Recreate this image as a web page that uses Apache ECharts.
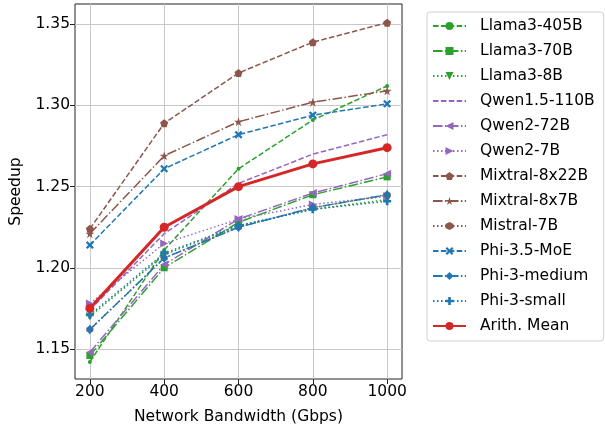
<!DOCTYPE html>
<html><head><meta charset="utf-8">
<script src="https://cdn.jsdelivr.net/npm/echarts@6/dist/echarts.min.js"></script>
<style>html,body{margin:0;padding:0;background:#fff}#c{width:605px;height:430px}</style>
</head><body><div id="c"></div>
<script>
const bandwidth = [200, 400, 600, 800, 1000];
const xTicks = [200, 400, 600, 800, 1000];
const yTicks = [1.15, 1.20, 1.25, 1.30, 1.35];

const llama3_405b = [1.142, 1.211, 1.261, 1.291, 1.312];
const llama3_70b  = [1.146, 1.200, 1.228, 1.245, 1.256];
const llama3_8b   = [1.170, 1.208, 1.226, 1.236, 1.242];
const qwen15_110b = [1.174, 1.221, 1.252, 1.270, 1.282];
const qwen2_72b   = [1.148, 1.202, 1.230, 1.246, 1.258];
const qwen2_7b    = [1.178, 1.215, 1.230, 1.239, 1.244];
const mixtral_8x22b = [1.224, 1.289, 1.320, 1.339, 1.351];
const mixtral_8x7b  = [1.221, 1.269, 1.290, 1.302, 1.309];
const mistral_7b    = [1.162, 1.206, 1.225, 1.237, 1.245];
const phi35_moe     = [1.214, 1.261, 1.282, 1.294, 1.301];
const phi3_medium   = [1.162, 1.206, 1.225, 1.237, 1.245];
const phi3_small    = [1.171, 1.209, 1.226, 1.236, 1.241];
const arith_mean    = [1.175, 1.225, 1.250, 1.264, 1.274];

const GREEN = '#2ca02c', PURPLE = '#9467bd', BROWN = '#8c564b', BLUE = '#1f77b4', RED = '#d62728';
const DASH = [5.5, 2.4], DASHDOT = [9.6, 2.4, 1.5, 2.4], DOT = [1.5, 2.5];
const STAR = 'path://M0,-1 L0.2245,-0.309 L0.951,-0.309 L0.363,0.118 L0.588,0.809 L0,0.382 L-0.588,0.809 L-0.363,0.118 L-0.951,-0.309 L-0.2245,-0.309 Z';
const HEX = 'path://M0,-1 L0.866,-0.5 L0.866,0.5 L0,1 L-0.866,0.5 L-0.866,-0.5 Z';
const PENT = 'path://M0,-1 L0.951,-0.309 L0.588,0.809 L-0.588,0.809 L-0.951,-0.309 Z';
const XF = 'path://M-1,-0.6 L-0.6,-1 L0,-0.4 L0.6,-1 L1,-0.6 L0.4,0 L1,0.6 L0.6,1 L0,0.4 L-0.6,1 L-1,0.6 L-0.4,0 Z';
const PF = 'path://M-0.33,-1 L0.33,-1 L0.33,-0.33 L1,-0.33 L1,0.33 L0.33,0.33 L0.33,1 L-0.33,1 L-0.33,0.33 L-1,0.33 L-1,-0.33 L-0.33,-0.33 Z';

const defs = [
  ['Llama3-405B', llama3_405b, GREEN, DASH, 'circle', 4, 0],
  ['Llama3-70B', llama3_70b, GREEN, DASHDOT, 'rect', 7, 0],
  ['Llama3-8B', llama3_8b, GREEN, DOT, 'triangle', 8, 180],
  ['Qwen1.5-110B', qwen15_110b, PURPLE, DASH, 'none', 0, 0],
  ['Qwen2-72B', qwen2_72b, PURPLE, DASHDOT, 'triangle', 8, 90],
  ['Qwen2-7B', qwen2_7b, PURPLE, DOT, 'triangle', 8, -90],
  ['Mixtral-8x22B', mixtral_8x22b, BROWN, DASH, PENT, 8, 0],
  ['Mixtral-8x7B', mixtral_8x7b, BROWN, DASHDOT, STAR, 9, 0],
  ['Mistral-7B', mistral_7b, BROWN, DOT, HEX, 7, 0],
  ['Phi-3.5-MoE', phi35_moe, BLUE, DASH, XF, 8, 0],
  ['Phi-3-medium', phi3_medium, BLUE, DASHDOT, 'diamond', [7, 10], 0],
  ['Phi-3-small', phi3_small, BLUE, DOT, PF, 8, 0],
  ['Arith. Mean', arith_mean, RED, 'solid', 'circle', 9, 0]
];

const series = defs.map(d => ({
  name: d[0], type: 'line',
  data: bandwidth.map((x, i) => [x, d[1][i]]),
  symbol: d[4] === 'none' ? 'circle' : d[4], symbolSize: d[5], symbolRotate: d[6], showSymbol: d[4] !== 'none',
  lineStyle: { color: d[2], width: d[0] === 'Arith. Mean' ? 3 : 1.5, type: d[3] },
  itemStyle: { color: d[2] },
  emphasis: { disabled: true }, animation: false
}));

const FONT = 'DejaVu Sans';
const FS = 15.5;
const chart = echarts.init(document.getElementById('c'), null, { renderer: 'canvas' });
chart.setOption({
  animation: false,
  grid: { left: 75, right: 203, top: 4, bottom: 48, show: true, borderColor: '#222', borderWidth: 1, backgroundColor: 'transparent' },
  xAxis: {
    type: 'value', min: 160, max: 1040,
    name: 'Network Bandwidth (Gbps)', nameLocation: 'middle', nameGap: 30,
    nameTextStyle: { fontFamily: FONT, fontSize: FS, color: '#000' },
    axisLine: { show: false },
    axisTick: { show: true, length: 5, inside: false, lineStyle: { color: '#222' }, customValues: xTicks },
    axisLabel: { customValues: xTicks, fontFamily: FONT, fontSize: FS, color: '#000', margin: 5,
      formatter: v => String(v) },
    splitLine: { show: true, lineStyle: { color: '#c8c8c8', width: 1 } }
  },
  yAxis: {
    type: 'value', min: 1.1315, max: 1.3625,
    name: 'Speedup', nameLocation: 'middle', nameGap: 51,
    nameTextStyle: { fontFamily: FONT, fontSize: FS, color: '#000' },
    axisLine: { show: false },
    axisTick: { show: true, length: 5, lineStyle: { color: '#222' }, customValues: yTicks },
    axisLabel: { customValues: yTicks, fontFamily: FONT, fontSize: FS, color: '#000', margin: 5,
      formatter: v => v.toFixed(2) },
    splitLine: { show: true, lineStyle: { color: '#c8c8c8', width: 1 } }
  },
  legend: {
    orient: 'vertical', left: 427, top: 12,
    itemWidth: 33, itemHeight: 10, itemGap: 9,
    padding: [6, 9, 7, 5],
    borderColor: '#d0d0d0', borderWidth: 1, borderRadius: 3, backgroundColor: '#fff',
    textStyle: { fontFamily: FONT, fontSize: FS, color: '#000', padding: [0, 0, 0, 9] },
    data: defs.map(d => d[4] === 'none' ? { name: d[0], itemStyle: { opacity: 0 } } : d[0])
  },
  series: series
});
</script></body></html>
